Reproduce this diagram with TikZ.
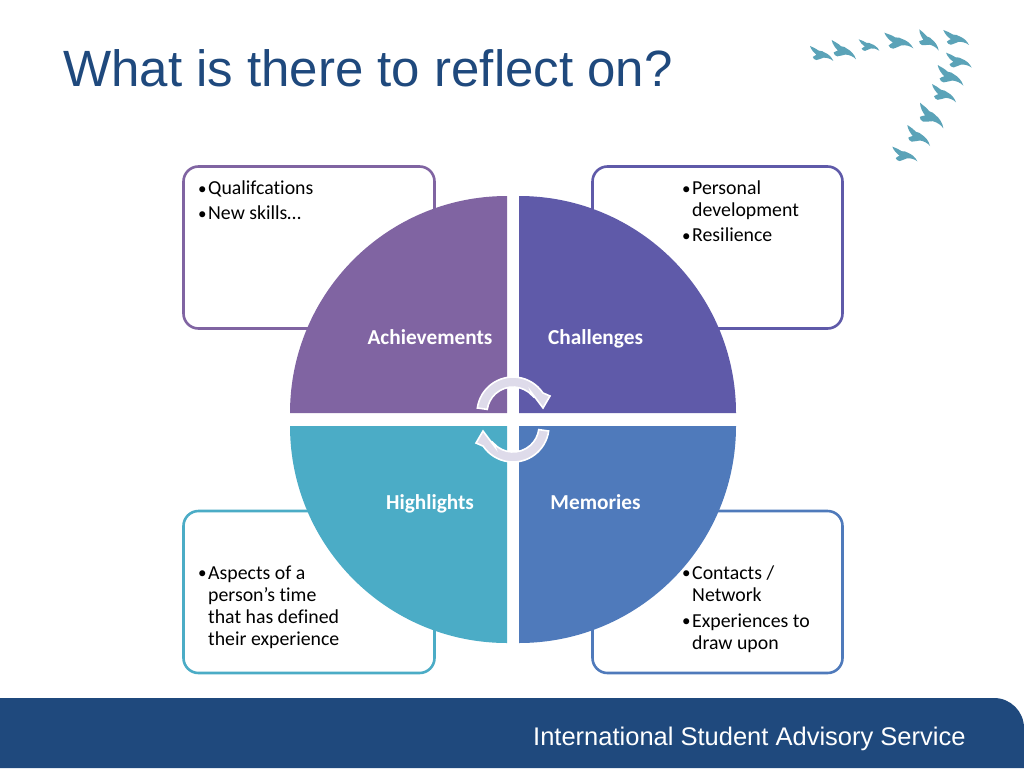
\documentclass[tikz,border=0pt]{standalone}
\usepackage{fontspec}
\setmainfont{Liberation Sans}
\newfontfamily\carl[Ligatures=NoCommon]{Carlito}
\definecolor{navy}{HTML}{1F497D}
\definecolor{purp}{HTML}{8064A2}
\definecolor{indi}{HTML}{5F5AA9}
\definecolor{blu}{HTML}{4F7ABB}
\definecolor{teal}{HTML}{4BACC6}
\definecolor{birdc}{HTML}{5BA3B8}
\definecolor{arrowc}{HTML}{DEDBEA}
\tikzset{
  cardbox/.style={draw=#1,line width=2.6pt,rounded corners=15pt,fill=white},
  slice/.style={fill=#1,draw=none},
  bodytext/.style={font=\carl\fontsize{19.8}{22}\selectfont,anchor=north west,inner sep=0pt,align=left,text=black},
  slicetext/.style={font=\carl\bfseries\fontsize{21.3}{24}\selectfont,text=white,inner sep=0pt,anchor=base},
  cycarrow/.style={fill=arrowc,draw=white,line width=1.6pt,line join=miter}
}
\newcommand{\bul}{\makebox[10pt][l]{\raisebox{0.6pt}{\fontsize{17}{17}\selectfont •}}}
\newcommand{\nob}{\makebox[10pt]{}}
\newcommand{\birdat}[4]{%
  \pgfmathsetmacro{\bx}{800+#1/3}\pgfmathsetmacro{\by}{20+#2/3}%
  \pgfmathsetmacro{\ang}{atan2(#4-#2,#3-#1)}%
  \pgfmathsetmacro{\len}{sqrt((#3-#1)*(#3-#1)+(#4-#2)*(#4-#2))/3}%
  \begin{scope}[shift={(\bx,\by)},rotate=-\ang,scale=\len]
    \fill[birdc] (0,0) .. controls (.12,-.01) and (.24,-.05) .. (.36,-.03)
      .. controls (.42,-.06) and (.5,-.11) .. (.58,-.09)
      .. controls (.68,-.11) and (.86,-.1) .. (1,0)
      .. controls (.88,-.02) and (.74,.02) .. (.64,.09)
      .. controls (.58,.15) and (.54,.24) .. (.47,.3)
      .. controls (.41,.33) and (.34,.32) .. (.3,.28)
      .. controls (.3,.22) and (.36,.19) .. (.37,.14)
      .. controls (.26,.13) and (.1,.09) .. (0,0) -- cycle;
  \end{scope}}
\begin{document}
\begin{tikzpicture}[x=1pt,y=-1pt]
\useasboundingbox (0,0) rectangle (1024,768);
\fill[white] (0,0) rectangle (1024,768);
% title
\node[font=\fontsize{51}{56}\selectfont,text=navy,anchor=base west,inner sep=0pt] (title) at (63,86) {What is there to reflect on?};
% birds
\birdat{30}{78}{100}{123}
\birdat{95}{60}{168}{118}
\birdat{176}{58}{238}{92}
\birdat{253}{38}{340}{85}
\birdat{358}{28}{416}{92}
\birdat{430}{30}{507}{75}
\birdat{438}{98}{515}{143}
\birdat{413}{135}{490}{197}
\birdat{396}{192}{468}{247}
\birdat{360}{248}{430}{325}
\birdat{322}{315}{390}{378}
\birdat{277}{380}{352}{424}
% boxes
\draw[cardbox=purp] (183.5,166.5) rectangle (434.5,328.5);
\draw[cardbox=indi] (592.5,166.5) rectangle (842.5,328.5);
\draw[cardbox=teal] (183.5,511) rectangle (434.5,673);
\draw[cardbox=blu] (592.5,511) rectangle (842.5,673);
% slices
\fill[slice=purp] (507,413) -- (290,413) arc[start angle=180,end angle=90,radius=217pt] -- cycle;
\fill[slice=indi] (519,413) -- (736,413) arc[start angle=0,end angle=90,radius=217pt] -- cycle;
\fill[slice=teal] (507,426) -- (290,426) arc[start angle=180,end angle=270,radius=217pt] -- cycle;
\fill[slice=blu] (519,426) -- (736,426) arc[start angle=0,end angle=-90,radius=217pt] -- cycle;
% box text
\node[bodytext] (t1) at (198,181) {\bul Qualifcations\\[3pt]\bul New skills…};
\node[bodytext] (t2) at (682,181) {\bul Personal\\\nob development\\[3pt]\bul Resilience};
\node[bodytext] (t3) at (198,565.5) {\bul Aspects of a\\\nob person’s time\\\nob that has defined\\\nob their experience};
\node[bodytext] (t4) at (682,565.5) {\bul Contacts /\\\nob Network\\[4pt]\bul Experiences to\\\nob draw upon};
% slice labels
\node[slicetext] (a) at (430,344) {Achievements};
\node[slicetext] (c) at (595.5,344) {Challenges};
\node[slicetext] (h) at (430,509) {Highlights};
\node[slicetext] (m) at (595.5,509) {Memories};
% cycle arrows
\begin{scope}[shift={(513,413)}]
\draw[cycarrow] (172:36pt) arc[start angle=172,end angle=34,radius=36pt] -- (37,-17) -- (30,-5) -- (18,-21) -- (42:26pt) arc[start angle=42,end angle=172,radius=26pt] -- cycle;
\end{scope}
\begin{scope}[shift={(513,426)},rotate=180]
\draw[cycarrow] (172:36pt) arc[start angle=172,end angle=34,radius=36pt] -- (37,-17) -- (30,-5) -- (18,-21) -- (42:26pt) arc[start angle=42,end angle=172,radius=26pt] -- cycle;
\end{scope}
% footer
\fill[navy] (0,698) -- (994,698) arc[start angle=90,end angle=0,radius=30pt] -- (1024,768) -- (0,768) -- cycle;
\node[font=\fontsize{25.5}{30}\selectfont,text=white,anchor=base west,inner sep=0pt] (foot) at (533,745) {International Student Advisory Service};
\end{tikzpicture}
\end{document}
